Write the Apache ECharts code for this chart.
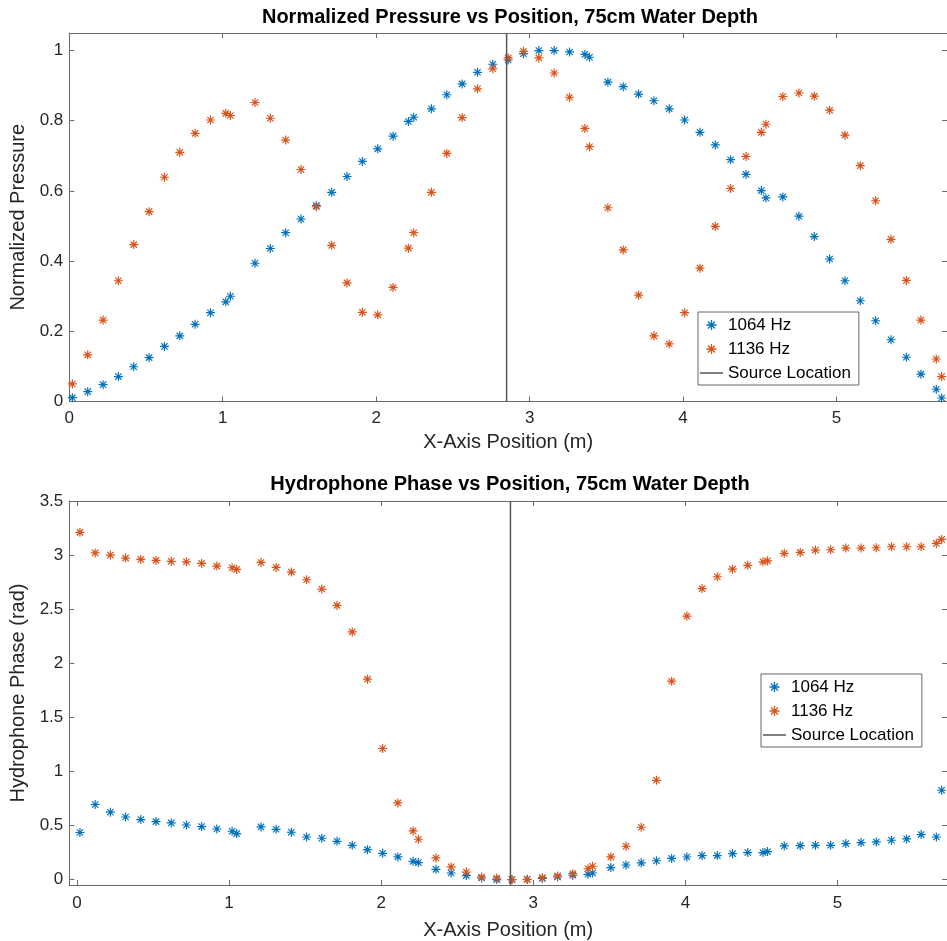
<!DOCTYPE html>
<html>
<head>
<meta charset="utf-8">
<script src="https://cdn.jsdelivr.net/npm/echarts@6/dist/echarts.min.js"></script>
<style>
html,body{margin:0;padding:0;background:#fff;}
#chart{width:947px;height:941px;}
</style>
</head>
<body>
<div id="chart"></div>
<script>
// ---- data ----
const xPos = [0.02, 0.12, 0.22, 0.32, 0.42, 0.52, 0.62, 0.72, 0.82, 0.92,
  1.02, 1.05, 1.21, 1.31, 1.41, 1.51, 1.61, 1.71, 1.81, 1.91,
  2.01, 2.11, 2.21, 2.245, 2.36, 2.46, 2.56, 2.66, 2.76, 2.86,
  2.96, 3.06, 3.16, 3.26, 3.36, 3.39, 3.51, 3.61, 3.71, 3.81,
  3.91, 4.01, 4.11, 4.21, 4.31, 4.41, 4.51, 4.54, 4.65, 4.755,
  4.855, 4.955, 5.055, 5.155, 5.255, 5.355, 5.455, 5.55, 5.65, 5.685];

const pressure1064 = [0.011, 0.028, 0.048, 0.071, 0.099, 0.125, 0.157, 0.187, 0.22, 0.253,
  0.284, 0.30, 0.394, 0.436, 0.481, 0.52, 0.558, 0.596, 0.641, 0.684,
  0.72, 0.756, 0.798, 0.81, 0.834, 0.874, 0.905, 0.938, 0.961, 0.973,
  0.991, 1.0, 1.0, 0.996, 0.989, 0.981, 0.91, 0.897, 0.876, 0.857,
  0.834, 0.802, 0.767, 0.731, 0.689, 0.647, 0.601, 0.58, 0.583, 0.528,
  0.47, 0.406, 0.344, 0.287, 0.23, 0.176, 0.126, 0.078, 0.035, 0.01];

const pressure1136 = [0.05, 0.133, 0.232, 0.344, 0.447, 0.541, 0.639, 0.71, 0.764, 0.802,
  0.821, 0.815, 0.852, 0.807, 0.745, 0.661, 0.555, 0.445, 0.338, 0.254,
  0.247, 0.325, 0.437, 0.481, 0.596, 0.707, 0.809, 0.891, 0.948, 0.979,
  0.998, 0.979, 0.936, 0.867, 0.778, 0.726, 0.552, 0.432, 0.303, 0.187,
  0.164, 0.253, 0.38, 0.499, 0.607, 0.698, 0.767, 0.79, 0.869, 0.879,
  0.87, 0.83, 0.759, 0.672, 0.572, 0.462, 0.345, 0.232, 0.121, 0.071];

const phase1064 = [0.435, 0.694, 0.623, 0.579, 0.555, 0.536, 0.524, 0.505, 0.49, 0.468,
  0.447, 0.425, 0.487, 0.465, 0.438, 0.394, 0.382, 0.354, 0.317, 0.277,
  0.243, 0.21, 0.169, 0.157, 0.095, 0.061, 0.037, 0.015, 0.0, 0.0,
  0.003, 0.01, 0.024, 0.04, 0.049, 0.061, 0.111, 0.135, 0.155, 0.174,
  0.196, 0.209, 0.222, 0.222, 0.24, 0.25, 0.25, 0.259, 0.311, 0.314,
  0.317, 0.317, 0.333, 0.342, 0.348, 0.364, 0.376, 0.416, 0.394, 0.826];

const phase1136 = [3.21, 3.02, 3.00, 2.972, 2.96, 2.951, 2.942, 2.938, 2.923, 2.898,
  2.883, 2.868, 2.932, 2.886, 2.843, 2.772, 2.686, 2.535, 2.29, 1.853,
  1.212, 0.709, 0.45, 0.373, 0.2, 0.117, 0.07, 0.024, 0.015, 0.0,
  0.0, 0.018, 0.034, 0.055, 0.1, 0.123, 0.21, 0.308, 0.484, 0.918,
  1.834, 2.436, 2.69, 2.80, 2.87, 2.905, 2.938, 2.947, 3.016, 3.025,
  3.046, 3.049, 3.065, 3.065, 3.068, 3.077, 3.077, 3.077, 3.108, 3.145];

const sourceX = 2.85;
const xTicks = [0, 1, 2, 3, 4, 5];
const pressureTicks = [0, 0.2, 0.4, 0.6, 0.8, 1];
const phaseTicks = [0, 0.5, 1, 1.5, 2, 2.5, 3, 3.5];
const seriesNames = ['1064 Hz', '1136 Hz', 'Source Location'];
const titles = ['Normalized Pressure vs Position, 75cm Water Depth', 'Hydrophone Phase vs Position, 75cm Water Depth'];
const xLabel = 'X-Axis Position (m)';
const yLabels = ['Normalized Pressure', 'Hydrophone Phase (rad)'];

// ---- styling ----
const FONT = 'Liberation Sans, Arial, Helvetica, sans-serif';
const TXT = '#262626';
const AX = '#6b6b6b';
const BLUE = '#0072BD';
const ORANGE = '#D95319';
const SRC = '#555555';
const ASTER = 'path://M0 4.35L10 4.35L10 5.65L0 5.65Z M4.35 0L5.65 0L5.65 10L4.35 10Z ' +
  'M1.96 1.04L8.96 8.04L8.04 8.96L1.04 1.96Z M8.96 1.96L1.96 8.96L1.04 8.04L8.04 1.04Z';
const LINE_ICON = 'path://M0 0L23 0L23 1.5L0 1.5Z';

const R = {
  top: {x: [0, 5.72], y: [0, 1.05]},
  bot: {x: [-0.05, 5.72], y: [-0.05, 3.5]}
};

function zip(xs, ys) { return xs.map((x, i) => [x, ys[i]]); }

function xAx(grid, ext, pos, name, gap, margin) {
  return {
    type: 'value', gridIndex: grid, min: ext[0], max: ext[1], position: pos,
    axisLine: {show: true, onZero: false, lineStyle: {color: AX, width: 1}},
    axisTick: {show: true, inside: true, length: 5, customValues: xTicks, lineStyle: {color: AX, width: 1}},
    axisLabel: {show: pos === 'bottom', customValues: xTicks, fontSize: 17, color: TXT, fontFamily: FONT, margin: margin || 8},
    splitLine: {show: false},
    name: name || '', nameLocation: 'middle', nameGap: gap || 0,
    nameTextStyle: {fontSize: 20, color: TXT, fontFamily: FONT}
  };
}
function yAx(grid, ext, ticks, pos, name, gap) {
  return {
    type: 'value', gridIndex: grid, min: ext[0], max: ext[1], position: pos,
    axisLine: {show: true, onZero: false, lineStyle: {color: AX, width: 1}},
    axisTick: {show: true, inside: true, length: 5, customValues: ticks, lineStyle: {color: AX, width: 1}},
    axisLabel: {show: pos === 'left', customValues: ticks, fontSize: 17, color: TXT, fontFamily: FONT, margin: 6},
    splitLine: {show: false},
    name: name || '', nameLocation: 'middle', nameGap: gap || 0,
    nameTextStyle: {fontSize: 20, color: TXT, fontFamily: FONT}
  };
}
function scatter(name, xi, data, color) {
  return {
    type: 'scatter', name: name, xAxisIndex: xi, yAxisIndex: xi, data: data,
    symbol: ASTER, symbolSize: 9, itemStyle: {color: color, opacity: 1},
    emphasis: {disabled: true}
  };
}
function srcLine(xi, yExt) {
  return {
    type: 'line', name: seriesNames[2], xAxisIndex: xi, yAxisIndex: xi,
    data: [[sourceX, yExt[0]], [sourceX, yExt[1]]],
    symbol: 'none', showSymbol: false, lineStyle: {color: SRC, width: 1.5}, itemStyle: {color: SRC},
    emphasis: {disabled: true}
  };
}
function legend(left, top) {
  return {
    orient: 'vertical', left: left, top: top,
    data: [
      {name: seriesNames[0]},
      {name: seriesNames[1]},
      {name: seriesNames[2], icon: LINE_ICON, itemStyle: {color: SRC, borderWidth: 0}}
    ],
    itemWidth: 23, itemHeight: 10, itemGap: 4, padding: [3, 8, 2, 2],
    textStyle: {fontSize: 17, color: '#000', fontFamily: FONT, lineHeight: 20},
    borderColor: '#666', borderWidth: 1, backgroundColor: '#fff', selectedMode: false
  };
}

const chart = echarts.init(document.getElementById('chart'), null, {renderer: 'canvas'});
chart.setOption({
  animation: false,
  backgroundColor: '#fff',
  title: [
    {text: titles[0], left: 510, top: 7, textAlign: 'center', padding: 0,
     textStyle: {fontSize: 20, fontWeight: 'bold', color: '#000', fontFamily: FONT}},
    {text: titles[1], left: 510, top: 474, textAlign: 'center', padding: 0,
     textStyle: {fontSize: 20, fontWeight: 'bold', color: '#000', fontFamily: FONT}}
  ],
  grid: [
    {left: 69.3, top: 33, width: 880, height: 368.5},
    {left: 69.3, top: 501, width: 880, height: 384}
  ],
  legend: [legend(698, 312), legend(761, 674)],
  xAxis: [
    xAx(0, R.top.x, 'bottom', xLabel, 31, 8),
    xAx(0, R.top.x, 'top'),
    xAx(1, R.bot.x, 'bottom', xLabel, 35, 10),
    xAx(1, R.bot.x, 'top')
  ],
  yAxis: [
    yAx(0, R.top.y, pressureTicks, 'left', yLabels[0], 35),
    yAx(0, R.top.y, pressureTicks, 'right'),
    yAx(1, R.bot.y, phaseTicks, 'left', yLabels[1], 39),
    yAx(1, R.bot.y, phaseTicks, 'right')
  ],
  series: [
    scatter(seriesNames[0], 0, zip(xPos, pressure1064), BLUE),
    scatter(seriesNames[1], 0, zip(xPos, pressure1136), ORANGE),
    srcLine(0, R.top.y),
    scatter(seriesNames[0], 2, zip(xPos, phase1064), BLUE),
    scatter(seriesNames[1], 2, zip(xPos, phase1136), ORANGE),
    srcLine(2, R.bot.y)
  ]
});
</script>
</body>
</html>
